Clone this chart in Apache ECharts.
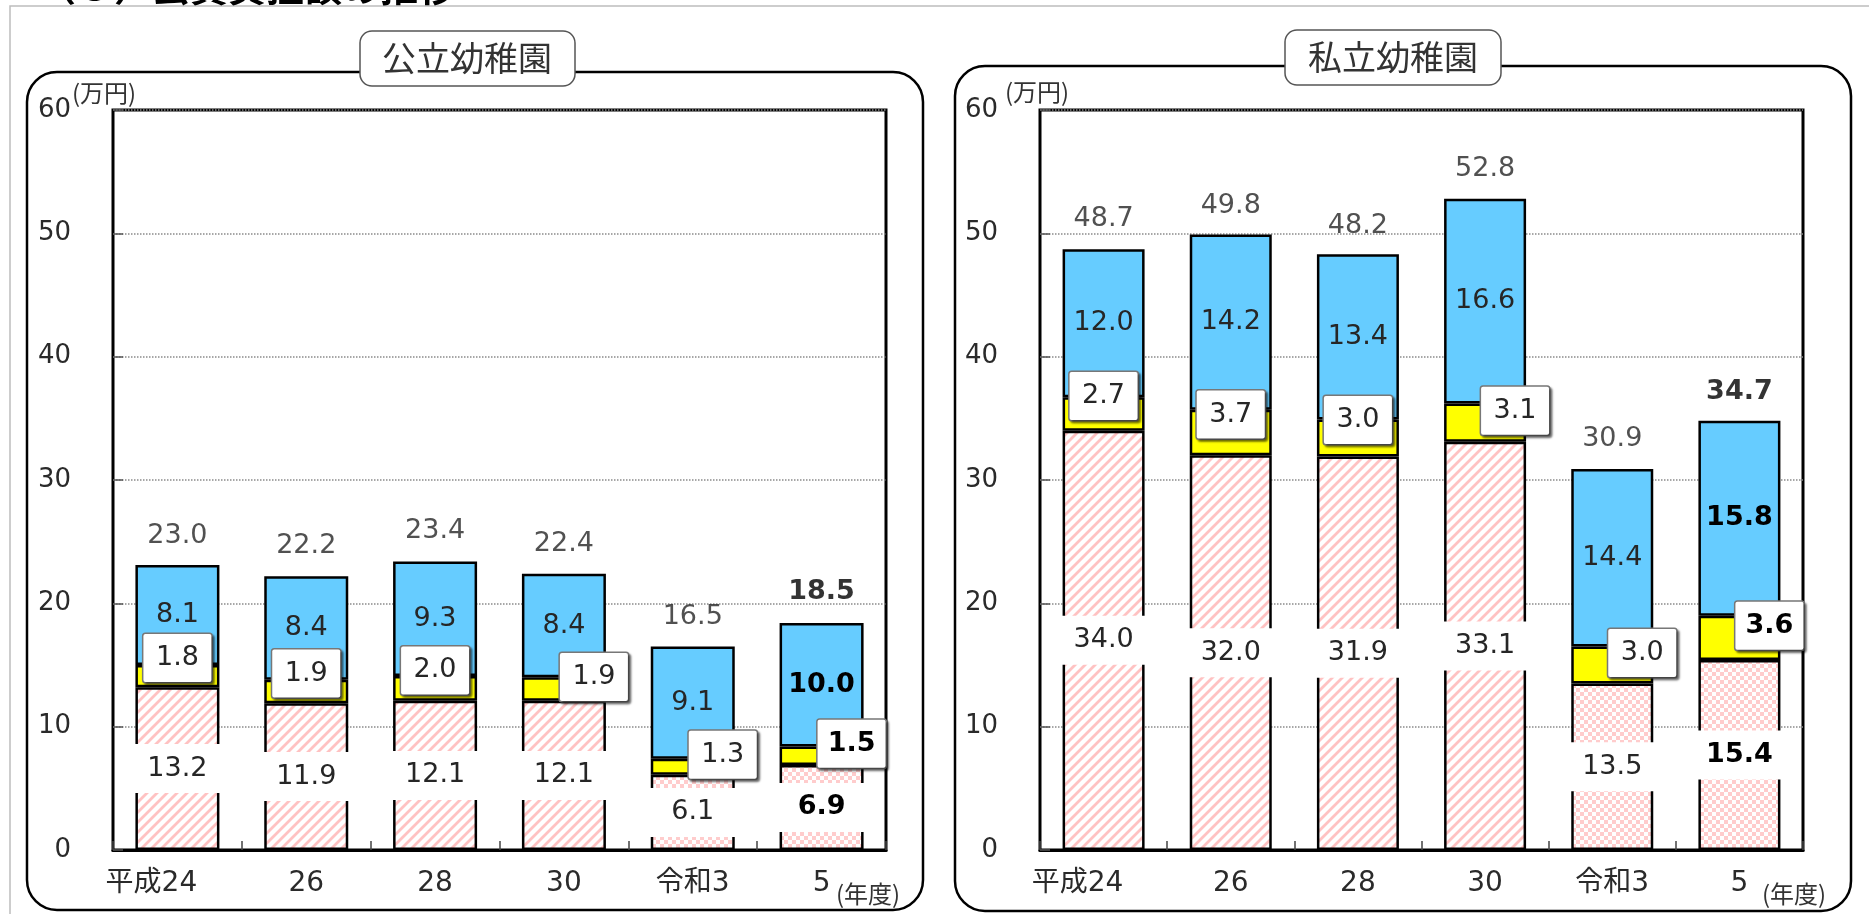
<!DOCTYPE html>
<html><head><meta charset="utf-8">
<script src="https://cdn.jsdelivr.net/npm/echarts@6/dist/echarts.min.js"></script>
<style>html,body{margin:0;padding:0;background:#fff;overflow:hidden}#c{width:1869px;height:914px}</style>
</head><body><div id="c"></div>
<script>
// ---- data ----
const categories = ['平成24', '26', '28', '30', '令和3', '5'];
const yTicks = [0, 10, 20, 30, 40, 50, 60];
const panelTitles = ['公立幼稚園', '私立幼稚園'];
const publicSchool = [13.2, 11.9, 12.1, 12.1, 6.1, 6.9];   // 学校教育費
const publicLunch  = [1.8, 1.9, 2.0, 1.9, 1.3, 1.5];       // 学校給食費
const publicOutside = [8.1, 8.4, 9.3, 8.4, 9.1, 10.0];     // 学校外活動費
const publicTotal  = [23.0, 22.2, 23.4, 22.4, 16.5, 18.5];
const privateSchool = [34.0, 32.0, 31.9, 33.1, 13.5, 15.4];
const privateLunch  = [2.7, 3.7, 3.0, 3.1, 3.0, 3.6];
const privateOutside = [12.0, 14.2, 13.4, 16.6, 14.4, 15.8];
const privateTotal  = [48.7, 49.8, 48.2, 52.8, 30.9, 34.7];

// ---- patterns ----
function stripeCanvas() {
  const c = document.createElement('canvas'); c.width = 10; c.height = 10;
  const g = c.getContext('2d');
  g.fillStyle = '#fff'; g.fillRect(0, 0, 10, 10);
  g.strokeStyle = '#ffc2c2'; g.lineWidth = 2.8;
  g.beginPath();
  g.moveTo(-2, 12); g.lineTo(12, -2);
  g.moveTo(-7, 7); g.lineTo(7, -7);
  g.moveTo(3, 17); g.lineTo(17, 3);
  g.stroke();
  return c;
}
function checkerCanvas() {
  const c = document.createElement('canvas'); c.width = 8; c.height = 8;
  const g = c.getContext('2d');
  g.fillStyle = '#fff'; g.fillRect(0, 0, 8, 8);
  g.fillStyle = '#ffcccc';
  g.fillRect(0, 0, 4, 4); g.fillRect(4, 4, 4, 4);
  return c;
}
const stripe = stripeCanvas(), checker = checkerCanvas();
const reiwaStart = categories.indexOf('令和3');
const lastIdx = categories.length - 1;
const NUMFONT = 'DejaVu Sans, Noto Sans CJK JP';
const fmt = p => Number(p.value).toFixed(1);

const panels = [
  { left: 113, width: 773, barWidth: 84, school: publicSchool, lunch: publicLunch, outside: publicOutside, total: publicTotal },
  { left: 1040, width: 763, barWidth: 82, school: privateSchool, lunch: privateLunch, outside: privateOutside, total: privateTotal }
];

const grids = [], xAxes = [], yAxes = [], series = [];
panels.forEach((p, g) => {
  grids.push({ left: p.left, top: 110, width: p.width, height: 740, show: true, borderColor: '#000', borderWidth: 3, backgroundColor: 'transparent' });
  xAxes.push({
    type: 'category', gridIndex: g, data: categories,
    axisLine: { show: true, lineStyle: { color: '#000', width: 3 } },
    axisTick: { show: true, inside: true, length: 9, interval: 0, lineStyle: { color: '#444', width: 1.5 } },
    axisLabel: {
      interval: 0, margin: 20, fontSize: 28, color: '#2a2a2a', fontFamily: NUMFONT,
      formatter: (v, i) => i === 0 ? '{p|' + v + '}' : v,
      rich: { p: { fontSize: 28, color: '#2a2a2a', fontFamily: NUMFONT, padding: [0, 52, 0, 0] } }
    }
  });
  yAxes.push({
    type: 'value', gridIndex: g, min: yTicks[0], max: yTicks[yTicks.length - 1], interval: yTicks[1] - yTicks[0],
    axisLine: { show: false },
    axisTick: { show: true, inside: true, length: 10, lineStyle: { color: '#555', width: 1.5 } },
    axisLabel: { margin: 42, fontSize: 26, color: '#2a2a2a', fontFamily: NUMFONT },
    splitLine: { show: true, lineStyle: { type: 'dotted', color: '#8a8a8a', width: 1.5 } }
  });
  const boldIf = i => i === lastIdx ? { fontWeight: 'bold', color: '#000' } : {};
  const baseLabel = { show: true, fontSize: 27, color: '#262626', fontFamily: NUMFONT, formatter: fmt };
  series.push({
    type: 'bar', name: '学校教育費', xAxisIndex: g, yAxisIndex: g, stack: 's' + g, barWidth: p.barWidth,
    itemStyle: { borderColor: '#000', borderWidth: 2.5 },
    label: Object.assign({}, baseLabel, { position: 'inside', backgroundColor: '#fff', width: p.barWidth + 3, height: 49, lineHeight: 49, align: 'center', padding: 0 }),
    data: p.school.map((v, i) => ({
      value: v,
      itemStyle: { color: { image: i >= reiwaStart ? checker : stripe, repeat: 'repeat' } },
      label: boldIf(i)
    }))
  });
  series.push({
    type: 'bar', name: '学校給食費', xAxisIndex: g, yAxisIndex: g, stack: 's' + g, barWidth: p.barWidth,
    itemStyle: { color: '#ffff00', borderColor: '#000', borderWidth: 2.5 },
    label: Object.assign({}, baseLabel, {
      position: 'inside', backgroundColor: '#fff', borderColor: '#777', borderWidth: 1.5, borderRadius: 2,
      width: 62, height: 42, lineHeight: 42, padding: [3, 3], align: 'center',
      shadowColor: 'rgba(0,0,0,0.45)', shadowBlur: 2, shadowOffsetX: 2, shadowOffsetY: 2
    }),
    data: p.lunch.map((v, i) => ({
      value: v,
      label: Object.assign({ offset: i >= 3 ? [30, -12] : [0, -18] }, boldIf(i))
    }))
  });
  series.push({
    type: 'bar', name: '学校外活動費', xAxisIndex: g, yAxisIndex: g, stack: 's' + g, barWidth: p.barWidth,
    itemStyle: { color: '#66ccff', borderColor: '#000', borderWidth: 2.5 },
    label: Object.assign({}, baseLabel, { position: 'inside' }),
    data: p.outside.map((v, i) => ({ value: v, label: boldIf(i) }))
  });
  series.push({
    type: 'scatter', name: '合計', xAxisIndex: g, yAxisIndex: g, symbolSize: 1,
    itemStyle: { color: 'rgba(0,0,0,0)' }, z: 5,
    label: Object.assign({}, baseLabel, { position: 'top', distance: 16 }),
    data: p.total.map((v, i) => ({ value: v, label: boldIf(i) }))
  });
});

const CJK = 'Noto Sans CJK JP';
const graphic = [
  { type: 'text', left: 38, top: -32, style: { text: '（３）公費負担額の推移', fontSize: 38, fontWeight: 'bold', fill: '#000', fontFamily: CJK } },
  { type: 'rect', shape: { x: 10, y: 6, width: 1880, height: 930 }, style: { fill: 'none', stroke: '#bdbdbd', lineWidth: 1.5 }, z: -10 },
  { type: 'rect', shape: { x: 27, y: 72, width: 896, height: 838, r: 30 }, style: { fill: 'none', stroke: '#000', lineWidth: 2.5 }, z: -5 },
  { type: 'rect', shape: { x: 955, y: 66, width: 896, height: 845, r: 30 }, style: { fill: 'none', stroke: '#000', lineWidth: 2.5 }, z: -5 },
  { type: 'rect', shape: { x: 360, y: 31, width: 215, height: 55, r: 12 }, style: { fill: '#fff', stroke: '#555', lineWidth: 1.5 }, z: 10 },
  { type: 'text', x: 467, y: 58, style: { text: panelTitles[0], fontSize: 34, fill: '#333', fontFamily: CJK, textAlign: 'center', textVerticalAlign: 'middle' }, z: 11 },
  { type: 'rect', shape: { x: 1285, y: 30, width: 216, height: 55, r: 12 }, style: { fill: '#fff', stroke: '#555', lineWidth: 1.5 }, z: 10 },
  { type: 'text', x: 1393, y: 57, style: { text: panelTitles[1], fontSize: 34, fill: '#333', fontFamily: CJK, textAlign: 'center', textVerticalAlign: 'middle' }, z: 11 },
  { type: 'text', x: 72, y: 93, style: { text: '(万円)', fontSize: 24, fill: '#333', fontFamily: CJK, textVerticalAlign: 'middle' } },
  { type: 'text', x: 1005, y: 92, style: { text: '(万円)', fontSize: 24, fill: '#333', fontFamily: CJK, textVerticalAlign: 'middle' } },
  { type: 'text', x: 836, y: 894, style: { text: '(年度)', fontSize: 24, fill: '#333', fontFamily: CJK, textVerticalAlign: 'middle' } },
  { type: 'text', x: 1762, y: 894, style: { text: '(年度)', fontSize: 24, fill: '#333', fontFamily: CJK, textVerticalAlign: 'middle' } }
];

const chart = echarts.init(document.getElementById('c'), null, { renderer: 'canvas' });
chart.setOption({
  animation: false,
  backgroundColor: '#fff',
  grid: grids, xAxis: xAxes, yAxis: yAxes, series: series, graphic: graphic
});
</script>
</body></html>
